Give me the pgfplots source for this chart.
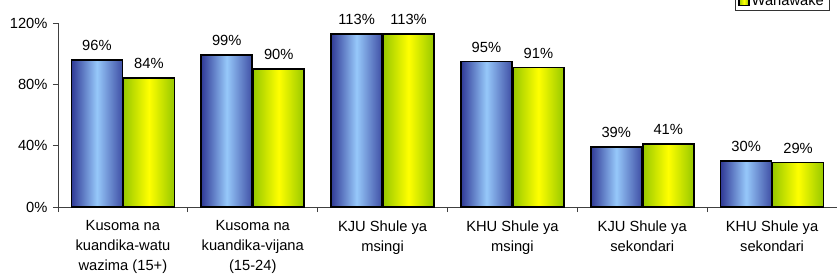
\documentclass[border=0pt]{standalone}
\usepackage{pgfplots}
\pgfplotsset{compat=1.18}
\usepackage{fontspec}
\setmainfont{Liberation Sans}
\definecolor{bdark}{RGB}{48,58,150}
\definecolor{blight}{RGB}{150,200,250}
\definecolor{ydark}{RGB}{150,200,0}
\definecolor{ylight}{RGB}{255,255,0}
\begin{document}
\begin{tikzpicture}
\begin{axis}[
  at={(0,0)}, anchor=south west,
  scale only axis, width=779bp, height=184bp,
  xmin=-0.5, xmax=5.5, ymin=0, ymax=120,
  axis x line*=bottom, axis y line*=left,
  axis line style={-, black!75, line width=0.8pt},
  clip=false,
  font=\fontsize{14.7bp}{20bp}\selectfont,
  ytick={0,40,80,120},
  yticklabels={0\%,40\%,80\%,120\%},
  yticklabel style={xshift=-2bp},
  xtick={0,1,2,3,4,5},
  xticklabels={{Kusoma na\\kuandika-watu\\wazima (15+)},
               {Kusoma na\\kuandika-vijana\\(15-24)},
               {KJU Shule ya\\msingi},
               {KHU Shule ya\\msingi},
               {KJU Shule ya\\sekondari},
               {KHU Shule ya\\sekondari}},
  xticklabel style={align=center, anchor=north, yshift=-5bp},
  minor xtick={-0.5,0.5,1.5,2.5,3.5,4.5,5.5},
  major x tick style={draw=none},
  tick style={black!75, line width=0.8pt},
  tick align=outside,
  major tick length=5bp, minor tick length=5bp,
  ybar, bar width=0.393,
  nodes near coords={\pgfmathprintnumber[assume math mode=true]{\pgfplotspointmeta}\%},
  every node near coord/.append style={font=\fontsize{14.7bp}{20bp}\selectfont, yshift=5bp, black},
  legend style={at={(0.869,1.066)}, anchor=south west, draw=black!80, fill=white,
     font=\fontsize{14.7bp}{20bp}\selectfont, cells={anchor=west}},
  legend image code/.code={\draw[#1] (0bp,-5bp) rectangle (10bp,5bp);},
  bluebar/.style={bar shift=-0.2, draw=black, line width=1.6pt,
     left color=bdark, right color=bdark!85!blight, middle color=blight},
  yelbar/.style={bar shift=0.2, draw=black, line width=1.6pt,
     left color=ydark, right color=ydark, middle color=ylight},
]
\addplot[bluebar] coordinates {(0,96)};
\addplot[yelbar] coordinates {(0,84)};
\addplot[bluebar, forget plot] coordinates {(1,99)};
\addplot[bluebar, forget plot] coordinates {(2,113)};
\addplot[bluebar, forget plot] coordinates {(3,95)};
\addplot[bluebar, forget plot] coordinates {(4,39)};
\addplot[bluebar, forget plot] coordinates {(5,30)};
\addplot[yelbar, forget plot] coordinates {(1,90)};
\addplot[yelbar, forget plot] coordinates {(2,113)};
\addplot[yelbar, forget plot] coordinates {(3,91)};
\addplot[yelbar, forget plot] coordinates {(4,41)};
\addplot[yelbar, forget plot] coordinates {(5,29)};
\legend{Wanaume, {Wanawake\rule[-6bp]{0pt}{1pt}}}
\end{axis}
\pgfresetboundingbox
\useasboundingbox (-58bp,-73bp) rectangle (779bp,207bp);
\end{tikzpicture}
\end{document}
